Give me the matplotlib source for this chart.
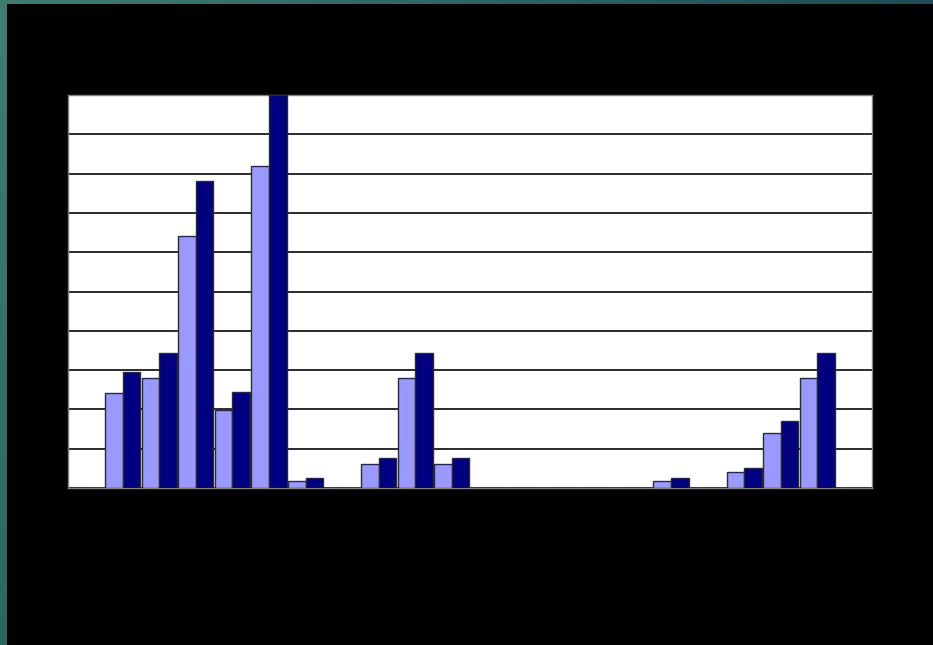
import numpy as np
import matplotlib.pyplot as plt
from matplotlib.colors import LinearSegmentedColormap

# 22 slots along the category axis, empty ones stay at zero
light_vals = [0, 24.2, 28.0, 64.1, 19.8, 81.9, 1.8, 0, 6.1, 28.0, 6.1,
              0, 0, 0, 0, 0, 1.8, 0, 4.1, 14.0, 28.0, 0]
dark_vals = [0, 29.5, 34.4, 78.1, 24.4, 100.0, 2.5, 0, 7.6, 34.4, 7.6,
             0, 0, 0, 0, 0, 2.5, 0, 5.1, 17.0, 34.4, 0]
y_ticks = list(range(0, 101, 10))

W, H = 933, 645
fig = plt.figure(figsize=(W / 100, H / 100), dpi=100, facecolor='black')

# teal frame on the left and top edges
left = fig.add_axes([0, 0, 7 / W, 1])
left_cm = LinearSegmentedColormap.from_list('left', ['#3f7c72', '#2e6560'])
left.imshow(np.linspace(0, 1, 256)[:, None], aspect='auto', cmap=left_cm)
left.set_axis_off()
top = fig.add_axes([0, 1 - 4 / H, 1, 4 / H])
top_cm = LinearSegmentedColormap.from_list('top', ['#3f7d72', '#2c6566', '#1d4c58'])
top.imshow(np.linspace(0, 1, 256)[None, :], aspect='auto', cmap=top_cm)
top.set_axis_off()

ax = fig.add_axes([68 / W, (H - 488) / H, 804 / W, 393 / H])
ax.set_facecolor('white')

x = np.arange(len(light_vals))
bw = 0.48
ax.bar(x - bw / 2, light_vals, bw, color='#9999ff', edgecolor='#2b2b2b',
       linewidth=1.0, zorder=3)
ax.bar(x + bw / 2, dark_vals, bw, color='#000080', edgecolor='#2b2b2b',
       linewidth=1.0, zorder=3)

ax.set_xlim(-0.5, len(light_vals) - 0.5)
ax.set_ylim(0, 100)
ax.set_yticks(y_ticks)
ax.set_yticklabels([str(t) for t in y_ticks], color='black', fontsize=10)
ax.set_xticks([])
ax.tick_params(axis='y', length=0)
ax.yaxis.grid(True, color='#1a1a1a', linewidth=1.3, zorder=1)
ax.set_axisbelow(True)
for side in ['top', 'right', 'left', 'bottom']:
    ax.spines[side].set_color('#808080')
    ax.spines[side].set_linewidth(1.0)

fig.savefig('out.png', dpi=100, facecolor='black')
